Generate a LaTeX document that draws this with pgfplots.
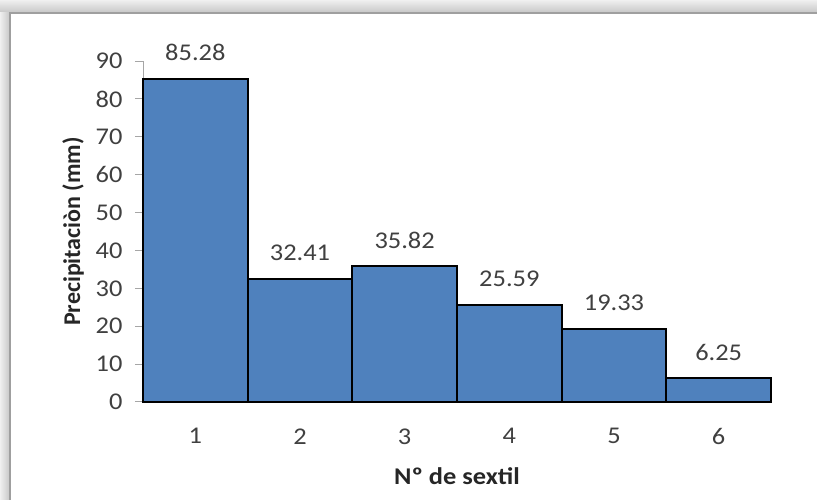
\documentclass[border=0pt]{standalone}
\usepackage{pgfplots}
\pgfplotsset{compat=1.18}
\usepackage{fontspec}
\setmainfont{Carlito}
\newfontfamily\wide[FakeStretch=1.1]{Carlito}
\definecolor{barblue}{HTML}{4F81BD}
\definecolor{txt}{HTML}{404040}
\begin{document}
\begin{tikzpicture}[x=1pt,y=1pt]
\useasboundingbox (0,0) rectangle (817,500);
\shade[top color=gray!12,bottom color=gray!45] (0,487) rectangle (817,500);
\shade[left color=gray!12,right color=gray!45] (0,0) rectangle (10,487);
\draw[gray!75, line width=1.5pt] (10,0) -- (10,487) -- (817,487);
\begin{axis}[
  at={(143pt,98pt)}, anchor=south west, scale only axis,
  width=628pt, height=341pt,
  xmin=0.5, xmax=6.5, ymin=0, ymax=90,
  ybar, bar width=1,
  axis x line*=bottom, axis y line*=left,
  axis line style={draw=gray!70, line width=1pt},
  xtick={1,2,3,4,5,6},
  ytick={0,10,...,90},
  xtick style={draw=none},
  ytick style={draw=gray!70, line width=1pt},
  tick align=outside, major tick length=8pt,
  /pgf/number format/assume math mode=true,
  tick label style={font=\wide\fontsize{24}{24}\selectfont, text=txt},
  yticklabel style={xshift=-9pt},
  xticklabel style={yshift=-15pt},
  ylabel={\bfseries Precipitaciòn (mm)},
  xlabel={\bfseries Nº de sextil},
  xlabel style={font=\wide\fontsize{24}{24}\selectfont, text=black!85, yshift=-16pt},
  ylabel style={font=\fontsize{24}{24}\selectfont, text=black!85, yshift=5pt},
  nodes near coords,
  nodes near coords style={font=\wide\fontsize{24}{24}\selectfont, text=txt, anchor=center, yshift=26pt, /pgf/number format/.cd, fixed, fixed zerofill, precision=2, assume math mode=true},
  clip=false,
]
\addplot[fill=barblue, draw=black, line width=1.8pt] coordinates {(1,85.28) (2,32.41) (3,35.82) (4,25.59) (5,19.33) (6,6.25)};
\end{axis}
\end{tikzpicture}
\end{document}
